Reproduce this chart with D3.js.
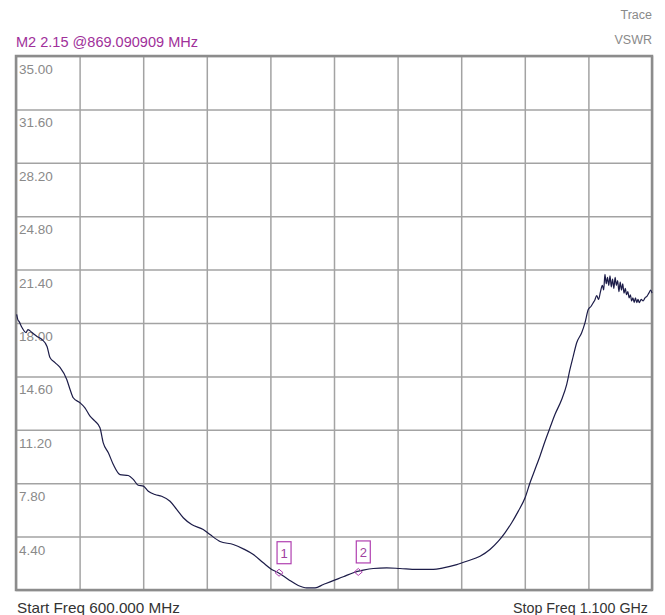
<!DOCTYPE html>
<html>
<head>
<meta charset="utf-8">
<script src="https://cdn.jsdelivr.net/npm/d3@7"></script>
<style>
  html, body { margin: 0; padding: 0; background: #ffffff; }
  svg { display: block; }
  text { font-family: "Liberation Sans", Arial, sans-serif; }
</style>
</head>
<body>
<svg id="chart" width="665" height="615"></svg>
<script>
// ---- data ----
const freqMHz = [
  600.5, 601.5, 602.4, 604.7, 607.9, 609.4, 612.6, 616.5, 620.4, 624.4, 626.7, 630.7, 634.6, 639.9, 642.5, 645.0,
  650.3, 654.2, 658.2, 662.1, 666.0, 668.6, 672.6, 676.5, 681.8, 688.3, 692.2, 696.1, 700.1, 704.0, 709.3, 714.5,
  721.1, 726.3, 731.5, 738.1, 747.2, 752.5, 760.4, 770.8, 778.7, 786.6, 794.4, 801.0, 806.2, 814.1, 821.9, 828.5,
  835.1, 841.6, 849.4, 857.3, 865.2, 873.0, 880.9, 891.4, 901.9, 915.0, 928.1, 935.9, 946.5, 954.3, 964.8, 972.6,
  979.2, 984.4, 989.7, 994.9, 1000.2, 1004.1, 1008.0, 1011.9, 1015.9, 1019.8, 1023.7, 1029.0, 1032.9, 1035.5,
  1038.1, 1040.8, 1044.7, 1047.3, 1049.9, 1052.0, 1053.8, 1055.0, 1056.5, 1058.0, 1059.5, 1061.0, 1062.0, 1063.0,
  1064.0, 1065.0, 1066.0, 1067.0, 1068.0, 1069.0, 1070.0, 1071.0, 1072.0, 1073.0, 1074.0, 1075.0, 1076.0, 1077.0,
  1078.0, 1079.0, 1080.0, 1081.0, 1082.0, 1083.0, 1084.0, 1085.0, 1086.0, 1087.0, 1088.0, 1089.0, 1090.0, 1091.5,
  1093.0, 1094.5, 1096.0, 1097.5, 1099.0, 1100.0
];
const vswr = [
  18.55, 18.2, 18.10, 17.71, 17.39, 17.58, 17.39, 17.14, 16.95, 16.50, 15.80, 15.48, 15.17, 14.40, 13.77, 13.24,
  12.92, 12.60, 12.07, 11.75, 11.33, 10.37, 9.74, 8.99, 8.35, 8.29, 8.04, 7.67, 7.61, 7.29, 7.08, 6.97,
  6.65, 6.13, 5.60, 5.17, 4.85, 4.53, 4.09, 3.90, 3.62, 3.26, 2.73, 2.31, 2.10, 1.67, 1.29, 1.14,
  1.14, 1.35, 1.60, 1.84, 2.10, 2.26, 2.37, 2.41, 2.37, 2.31, 2.31, 2.41, 2.62, 2.83, 3.15, 3.58,
  4.11, 4.64, 5.28, 6.02, 6.87, 7.83, 8.67, 9.52, 10.47, 11.33, 12.17, 13.13, 14.08, 15.04,
  15.89, 16.74, 17.38, 18.01, 18.86, 19.05, 19.29, 19.45, 19.75, 19.5, 20.0, 20.4, 20.1, 21.1,
  20.5, 20.9, 20.4, 21.0, 20.3, 20.8, 20.2, 20.9, 20.4, 20.7, 20.0, 20.6, 20.1, 20.5,
  19.9, 20.2, 19.8, 20.0, 19.6, 19.8, 19.4, 19.6, 19.3, 19.6, 19.3, 19.5, 19.3, 19.5,
  19.4, 19.6, 19.7, 19.9, 20.1, 19.9
];
const yTicks = [35.00, 31.60, 28.20, 24.80, 21.40, 18.00, 14.60, 11.20, 7.80, 4.40, 1.00];
const xTicks = [600, 650, 700, 750, 800, 850, 900, 950, 1000, 1050, 1100];
const markerNames = ["1", "2"];
const markerFreq = [806.8, 869.090909];
const markerVal = [2.10, 2.15];
const markerReadout = "M2 2.15 @869.090909 MHz";
const traceLabel = ["Trace", "VSWR"];
const startLabel = "Start Freq 600.000 MHz";
const stopLabel = "Stop Freq 1.100 GHz";

// ---- layout ----
const L = 16, R = 652, T = 56, B = 590;
const svg = d3.select("#chart");
const x = d3.scaleLinear().domain([600, 1100]).range([L, R]);
const y = d3.scaleLinear().domain([1, 35]).range([B, T]);

// grid
const gx = svg.append("g").attr("transform", `translate(0,${B})`)
  .call(d3.axisBottom(x).tickValues(xTicks).tickSize(-(B - T)).tickFormat(""));
const gy = svg.append("g").attr("transform", `translate(${L},0)`)
  .call(d3.axisLeft(y).tickValues(yTicks).tickSize(-(R - L)).tickFormat(""));
[gx, gy].forEach(g => {
  g.select(".domain").remove();
  g.selectAll(".tick line").attr("stroke", "#a3a3a3").attr("stroke-width", 1.5);
});

// border
svg.append("rect").attr("x", L).attr("y", T).attr("width", R - L).attr("height", B - T)
  .attr("fill", "none").attr("stroke", "#8c8c8c").attr("stroke-width", 2.5);

// y labels
svg.append("g").selectAll("text").data(yTicks.slice(0, -1)).join("text")
  .attr("x", L + 3).attr("y", d => y(d) + 18)
  .attr("fill", "#8a8a8a").attr("font-size", 13.5)
  .text(d => d3.format(".2f")(d));

// trace
const pts = freqMHz.map((f, i) => [f, vswr[i]]);
svg.append("path").datum(pts)
  .attr("fill", "none").attr("stroke", "#1c1c48").attr("stroke-width", 1.2)
  .attr("d", d3.line().x(d => x(d[0])).y(d => y(d[1])).curve(d3.curveMonotoneX));

// markers
const mk = svg.append("g");
markerFreq.forEach((f, i) => {
  const cx = x(f), cy = y(markerVal[i]);
  mk.append("path")
    .attr("d", `M${cx - 4},${cy} L${cx},${cy - 3.5} L${cx + 4},${cy} L${cx},${cy + 3.5} Z`)
    .attr("fill", "none").attr("stroke", "#b040b0").attr("stroke-width", 1);
  mk.append("rect").attr("x", cx - 2).attr("y", cy - 31).attr("width", 14).attr("height", 22)
    .attr("fill", "none").attr("stroke", "#b040b0").attr("stroke-width", 1.2);
  mk.append("text").attr("x", cx + 5).attr("y", cy - 14.5).attr("text-anchor", "middle")
    .attr("font-size", 13).attr("fill", "#a040a0").text(markerNames[i]);
});

// texts
svg.append("text").attr("x", L).attr("y", 47).attr("font-size", 14.5).attr("fill", "#a0309a")
  .attr("textLength", 182).attr("lengthAdjust", "spacingAndGlyphs").text(markerReadout);
svg.append("text").attr("x", 652).attr("y", 19).attr("text-anchor", "end")
  .attr("font-size", 12.5).attr("fill", "#8a8a8a").text(traceLabel[0]);
svg.append("text").attr("x", 652).attr("y", 44).attr("text-anchor", "end")
  .attr("font-size", 12.5).attr("fill", "#8a8a8a").text(traceLabel[1]);
svg.append("text").attr("x", 17).attr("y", 613).attr("font-size", 15).attr("fill", "#333")
  .attr("textLength", 163).attr("lengthAdjust", "spacingAndGlyphs").text(startLabel);
svg.append("text").attr("x", 513).attr("y", 613).attr("font-size", 15).attr("fill", "#333")
  .attr("textLength", 135).attr("lengthAdjust", "spacingAndGlyphs").text(stopLabel);
</script>
</body>
</html>
